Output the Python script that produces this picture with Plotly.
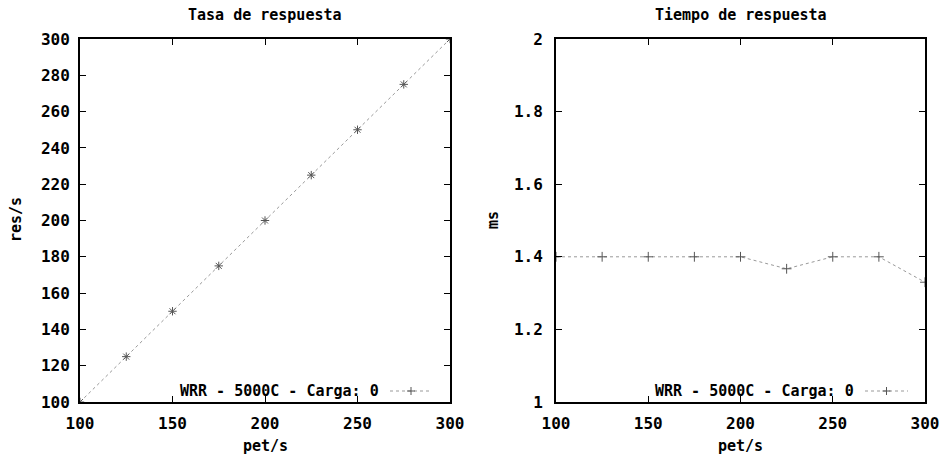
import plotly.graph_objects as go

# Measured throughput and latency against offered load
pet = [100, 125, 150, 175, 200, 225, 250, 275, 300]
res = [100, 125, 150, 175, 200, 225, 250, 275, 300]
ms = [1.40, 1.40, 1.40, 1.40, 1.40, 1.367, 1.40, 1.40, 1.33]

series_name = "WRR - 5000C - Carga: 0"
titles = ["Tasa de respuesta", "Tiempo de respuesta"]
y_titles = ["res/s", "ms"]

FONT = "DejaVu Sans Mono"
LINE_COLOR = "#999999"
MARK_COLOR = "#555555"

fig = go.Figure()

fig.add_trace(go.Scatter(
    x=pet, y=res, mode="lines+markers", name=series_name,
    xaxis="x", yaxis="y", showlegend=False,
    line=dict(color=LINE_COLOR, width=1, dash="dot"),
    marker=dict(symbol="asterisk-open", size=7, color=MARK_COLOR,
                line=dict(width=1, color=MARK_COLOR)),
))
fig.add_trace(go.Scatter(
    x=pet, y=ms, mode="lines+markers", name=series_name,
    xaxis="x2", yaxis="y2", showlegend=False,
    line=dict(color=LINE_COLOR, width=1, dash="dot"),
    marker=dict(symbol="cross-thin-open", size=7, color=MARK_COLOR,
                line=dict(width=1, color=MARK_COLOR)),
))

W, H = 943, 456
left_dom = [80 / W, 450 / W]
right_dom = [556 / W, 925 / W]
y_dom = [1 - 402 / H, 1 - 39 / H]

tick_font = dict(family=FONT, size=16, color="black", weight="bold")
title_font = dict(family=FONT, size=15, color="black", weight="bold")

axis_common = dict(
    showgrid=False, zeroline=False, showline=True, linecolor="black",
    linewidth=2, mirror="ticks", ticks="inside", ticklen=6,
    tickcolor="black", tickwidth=1, tickfont=tick_font, automargin=False,
)

fig.update_layout(
    width=W, height=H, margin=dict(l=0, r=0, t=0, b=0),
    paper_bgcolor="white", plot_bgcolor="white",
    xaxis=dict(domain=left_dom, anchor="y", range=[100, 300], dtick=50,
               tick0=100, ticklabelstandoff=6,
               **axis_common),
    yaxis=dict(domain=y_dom, anchor="x", range=[100, 300], dtick=20,
               tick0=100, ticklabelstandoff=5,
               **axis_common),
    xaxis2=dict(domain=right_dom, anchor="y2", range=[100, 300], dtick=50,
                tick0=100, ticklabelstandoff=6,
                **axis_common),
    yaxis2=dict(domain=y_dom, anchor="x2", range=[1, 2],
                tickvals=[1, 1.2, 1.4, 1.6, 1.8, 2],
                ticktext=["1", "1.2", "1.4", "1.6", "1.8", "2"],
                ticklabelstandoff=8,
                **axis_common),
)

# Panel titles
for dom, text in zip([left_dom, right_dom], titles):
    fig.add_annotation(x=(dom[0] + dom[1]) / 2, y=1 - 15 / H, xref="paper",
                       yref="paper", text=text, showarrow=False,
                       font=title_font, xanchor="center", yanchor="middle")

# Axis titles
for dom in [left_dom, right_dom]:
    fig.add_annotation(x=(dom[0] + dom[1]) / 2, y=1 - 446 / H, xref="paper",
                       yref="paper", text="pet/s", showarrow=False,
                       font=title_font, xanchor="center", yanchor="middle")
for xpos, text in zip([16, 493], y_titles):
    fig.add_annotation(x=xpos / W, y=1 - 220 / H, xref="paper", yref="paper",
                       text=text, showarrow=False, font=title_font,
                       textangle=-90, xanchor="center", yanchor="middle")

# In-plot key: label on the left, line sample with marker on the right
key_y = 1 - 391 / H
for dom, text_end, s0, s1 in [(left_dom, 381, 390, 432), (right_dom, 856, 865, 908)]:
    fig.add_annotation(x=text_end / W, y=key_y, xref="paper", yref="paper",
                       text=series_name, showarrow=False, font=title_font,
                       xanchor="right", yanchor="middle")
    fig.add_shape(type="line", xref="paper", yref="paper",
                  x0=s0 / W, x1=s1 / W, y0=key_y, y1=key_y,
                  line=dict(color=LINE_COLOR, width=1, dash="dot"))
    cx = (s0 + s1) / 2
    fig.add_shape(type="line", xref="paper", yref="paper",
                  x0=cx / W, x1=cx / W, y0=key_y - 4 / H, y1=key_y + 4 / H,
                  line=dict(color=MARK_COLOR, width=1))
    fig.add_shape(type="line", xref="paper", yref="paper",
                  x0=(cx - 4) / W, x1=(cx + 4) / W, y0=key_y, y1=key_y,
                  line=dict(color=MARK_COLOR, width=1))

fig.write_html("out.html")
